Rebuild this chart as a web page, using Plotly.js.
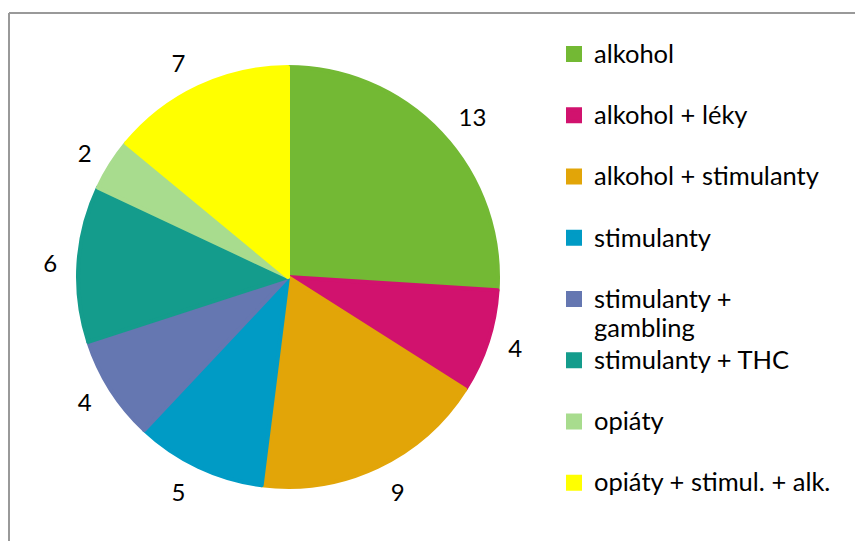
<!DOCTYPE html>
<html><head><meta charset="utf-8">
<script src="https://cdn.plot.ly/plotly-3.0.1.min.js"></script>
<style>html,body{margin:0;padding:0;background:#fff}</style>
</head><body>
<div id="chart" style="width:855px;height:541px"></div>
<script>
const categories = ["alkohol", "alkohol + léky", "alkohol + stimulanty", "stimulanty", "stimulanty + gambling", "stimulanty + THC", "opiáty", "opiáty + stimul. + alk."];
const values = [13, 4, 9, 5, 4, 6, 2, 7];
const colors = ["#73B934", "#D1126E", "#E2A508", "#009BC5", "#6577B1", "#149C8C", "#A8DC8E", "#FFFF00"];

const W = 855, H = 541;
const cx = 288, cy = 277, r = 210, rl = 224;
function dom(rad){ return {x:[(cx-rad)/W,(cx+rad)/W], y:[(H-cy-rad)/H,(H-cy+rad)/H]}; }

// legend labels: two lines per entry to reproduce spacing; glyphs enlarged via span
const big = s => "<span style='font-size:25.5px'>" + s + "</span>";
const legendLabels = categories.map(c => c === "stimulanty + gambling"
  ? big("stimulanty +") + "<br>" + big("gambling")
  : big(c) + "<br> ");

const font = "Lato, 'Open Sans', sans-serif";
const data = [
  {
    type: "pie", values: values, labels: legendLabels, sort: false, direction: "clockwise", rotation: 0,
    marker: {colors: colors, line: {width: 4, color: colors}}, textinfo: "none", domain: dom(r), hoverinfo: "skip"
  },
  {
    type: "pie", values: values, labels: categories.map((c,i)=>"lbl"+i), sort: false, direction: "clockwise", rotation: 0,
    marker: {colors: categories.map(()=>"rgba(0,0,0,0)"), line:{width:0}}, textinfo: "value", textposition: "outside",
    outsidetextfont: {size: 24, color: "#000", family: font}, domain: dom(rl), showlegend: false, hoverinfo: "skip"
  }
];
const layout = {
  width: W, height: H, margin: {l:0, r:0, t:0, b:0}, paper_bgcolor: "#fff",
  font: {family: font, color: "#000"},
  showlegend: true,
  legend: {x: 554/W, y: 1 - 33/H, xanchor: "left", yanchor: "top", valign: "top",
           font: {size: 22.4, family: font, color: "#000"}, itemclick: false},
  shapes: [
    {type: "line", xref: "paper", yref: "paper", x0: 9/W, x1: 1, y0: 1-13/H, y1: 1-13/H, line: {color: "#999", width: 2}},
    {type: "line", xref: "paper", yref: "paper", x0: 9/W, x1: 9/W, y0: 0, y1: 1-13/H, line: {color: "#999", width: 2}}
  ]
};
Plotly.newPlot("chart", data, layout, {displayModeBar: false, staticPlot: true});
</script>
</body></html>
